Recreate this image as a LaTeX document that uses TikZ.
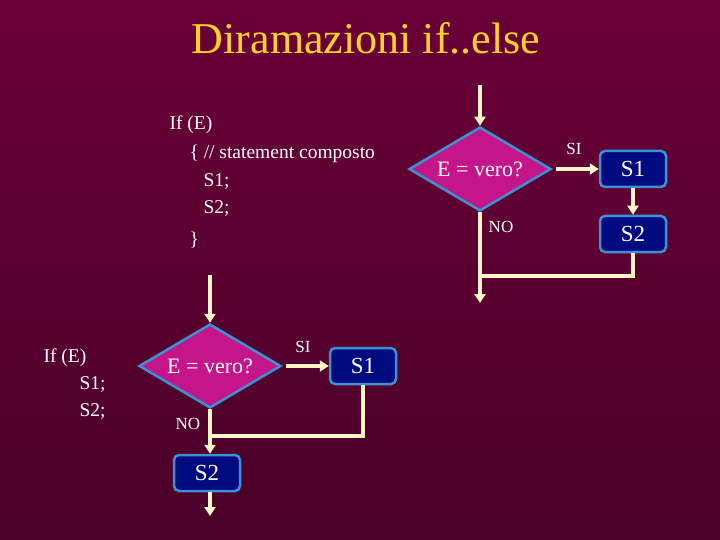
\documentclass[tikz,border=0pt]{standalone}
\usepackage{fontspec}
\setmainfont{Liberation Serif}
\usetikzlibrary{shapes.geometric,arrows.meta}
\definecolor{bgdark}{HTML}{4A0028}
\definecolor{bgmid}{HTML}{6A0038}
\definecolor{titleyel}{HTML}{FFD21E}
\definecolor{flowline}{HTML}{FFF6C8}
\definecolor{decfill}{HTML}{C4168A}
\definecolor{edgeblue}{HTML}{3A92D2}
\definecolor{boxnavy}{HTML}{020A80}
\tikzset{
  decision/.style={diamond, draw=edgeblue, line width=2.5pt, fill=decfill,
    minimum width=142pt, minimum height=84pt, aspect=1.7, inner sep=0pt,
    text=white, font=\fontsize{22}{24}\selectfont},
  stmtbox/.style={rectangle, rounded corners=5pt, draw=edgeblue, line width=2.5pt,
    fill=boxnavy, minimum width=66pt, minimum height=36pt, text=white,
    font=\fontsize{23}{25}\selectfont},
  flow/.style={draw=flowline, line width=3.5pt},
  flowarr/.style={flow, -{Triangle[length=9pt,width=11pt]}},
  branch/.style={text=white, font=\fontsize{17}{19}\selectfont},
  code/.style={text=white, anchor=west, font=\fontsize{19.5}{21}\selectfont}
}
\begin{document}
\begin{tikzpicture}[x=1pt,y=-1pt]
  \shade[top color=bgmid, bottom color=bgdark] (0,0) rectangle (720,540);
  \useasboundingbox (0,0) rectangle (720,540);
  \node[text=titleyel, font=\fontsize{44}{48}\selectfont] (title) at (366,38) {Diramazioni if..else};
  % codice in alto
  \node[code] (c1) at (166,125) {If (E)};
  \node[code] (c2) at (186,154) {\{ // statement composto};
  \node[code] (c3) at (200,182) {S1;};
  \node[code] (c4) at (200,209) {S2;};
  \node[code] (c5) at (186,240) {\}};
  % codice in basso
  \node[code] (d1) at (40,358) {If (E)};
  \node[code] (d2) at (76,385) {S1;};
  \node[code] (d3) at (76,412) {S2;};

  % diagramma in alto
  \coordinate (tin) at (480,85);
  \node[decision] (tdec) at (480,169) {E = vero?};
  \node[stmtbox] (ts1) at (633,169) {S1};
  \node[stmtbox] (ts2) at (633,234) {S2};
  \coordinate (tjoin) at (480,276);
  \coordinate (tout) at (480,303);
  \draw[flowarr] (tin) -- (tdec.north);
  \draw[flowarr] (tdec.east) ++(4,0) -- (ts1.west);
  \draw[flowarr] (ts1.south) -- (ts2.north);
  \draw[flow] (ts2.south) |- (tjoin);
  \draw[flowarr] (tdec.south) -- (tout);
  \node[branch] (tsi) at (574,149) {SI};
  \node[branch] (tno) at (501,227) {NO};

  % diagramma in basso
  \coordinate (bin) at (210,275);
  \node[decision] (bdec) at (210,366) {E = vero?};
  \node[stmtbox] (bs1) at (363,366) {S1};
  \node[stmtbox] (bs2) at (207,473) {S2};
  \coordinate (bjoin) at (210,436);
  \coordinate (bout) at (210,516);
  \draw[flowarr] (bin) -- (bdec.north);
  \draw[flowarr] (bdec.east) ++(4,0) -- (bs1.west);
  \draw[flow] (bs1.south) |- (bjoin);
  \draw[flowarr] (bdec.south) -- (bdec.south |- bs2.north);
  \draw[flowarr] (bdec.south |- bs2.south) -- (bout);
  \node[branch] (bsi) at (303,347) {SI};
  \node[branch] (bno) at (188,424) {NO};
\end{tikzpicture}
\end{document}
